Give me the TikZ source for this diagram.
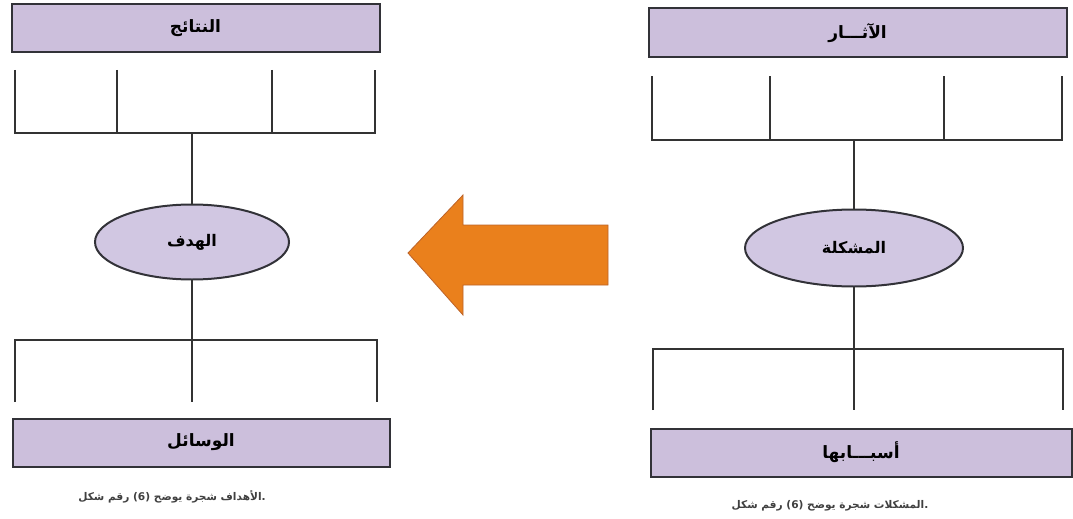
\documentclass[tikz,border=0pt]{standalone}
\usepackage{fontspec}
\usetikzlibrary{shapes.geometric}
\TeXXeTstate=1
\newfontfamily\arabicfont[Script=Arabic]{DejaVu Sans}
\definecolor{boxfill}{RGB}{204,191,220}
\definecolor{ovalfill}{RGB}{209,199,226}
\definecolor{edgegray}{RGB}{50,50,56}
\definecolor{arroworange}{RGB}{234,128,28}
\definecolor{arrowedge}{RGB}{188,98,40}

\begin{document}
\begin{tikzpicture}[
    x=1pt, y=-1pt,
    every node/.style = {
      inner sep=0pt,
      outer sep=0pt,
      align=center
    },
    labelbox/.style = {
      shape=rectangle,
      draw=edgegray,
      line width=2pt,
      fill=boxfill,
      minimum height=48pt,
      font=\arabicfont\bfseries\fontsize{17}{19}\selectfont
    },
    goaloval/.style = {
      ellipse,
      draw=edgegray,
      line width=2pt,
      fill=ovalfill,
      font=\arabicfont\bfseries\fontsize{16}{18}\selectfont
    },
    branch/.style = {draw=black!80, line width=2.8pt},
    figcaption/.style = {font=\arabicfont\bfseries\fontsize{10.6}{12}\selectfont, text=black!75}
  ]
    \useasboundingbox (0,0) rectangle (1073,519);

    % Objectives tree (left)
    \node[labelbox, minimum width=368pt] (natayij) at (195.5,28.5) {\beginR النتائج\endR};
    \node[goaloval, minimum width=194pt, minimum height=75pt] (hadaf) at (192,242) {\beginR الهدف\endR};
    \node[labelbox, minimum width=377pt] (wasail) at (201,442.5) {\beginR الوسائل\endR};
    \node[figcaption] (caphadaf) at (172,497) {\beginR .الأهداف شجرة يوضح (6) رقم شكل\endR};

    % upper bracket
    \coordinate (nt1) at (15,70);
    \coordinate (nt2) at (117,70);
    \coordinate (nt3) at (272,70);
    \coordinate (nt4) at (375,70);
    \coordinate (ntbar) at (192,133);
    \draw[branch] (nt1) |- (nt4 |- ntbar) -- (nt4);
    \foreach \tip in {nt2,nt3}
      \draw[branch] (\tip) -- (\tip |- ntbar);
    \draw[branch] (ntbar) -- (hadaf);

    % lower bracket
    \coordinate (ws1) at (15,402);
    \coordinate (ws2) at (192,402);
    \coordinate (ws3) at (377,402);
    \coordinate (wsbar) at (192,340);
    \draw[branch] (ws1) |- (ws3 |- wsbar) -- (ws3);
    \draw[branch] (hadaf) -- (ws2);

    % Problems tree (right)
    \node[labelbox, minimum width=418pt, minimum height=49pt] (athar) at (857.5,33) {\beginR الآثـــار\endR};
    \node[goaloval, minimum width=218pt, minimum height=77pt] (mushkila) at (854,248) {\beginR المشكلة\endR};
    \node[labelbox, minimum width=421pt] (asbab) at (861,452.5) {\beginR أسبـــابها\endR};
    \node[figcaption] (capmushkila) at (830,506) {\beginR .المشكلات شجرة يوضح (6) رقم شكل\endR};

    % upper bracket
    \coordinate (at1) at (652,76);
    \coordinate (at2) at (770,76);
    \coordinate (at3) at (944,76);
    \coordinate (at4) at (1062,76);
    \coordinate (atbar) at (854,140);
    \draw[branch] (at1) |- (at4 |- atbar) -- (at4);
    \foreach \tip in {at2,at3}
      \draw[branch] (\tip) -- (\tip |- atbar);
    \draw[branch] (atbar) -- (mushkila);

    % lower bracket
    \coordinate (as1) at (653,410);
    \coordinate (as2) at (854,410);
    \coordinate (as3) at (1063,410);
    \coordinate (asbar) at (854,349);
    \draw[branch] (as1) |- (as3 |- asbar) -- (as3);
    \draw[branch] (mushkila) -- (as2);

    % big arrow from problems to objectives
    \filldraw[fill=arroworange, draw=arrowedge, line width=0.8pt, line join=miter]
      (608,225) -- (463,225) -- (463,195) -- (408,253) -- (463,315)
      -- (463,285) -- (608,285) -- cycle;
  \end{tikzpicture}
\end{document}
